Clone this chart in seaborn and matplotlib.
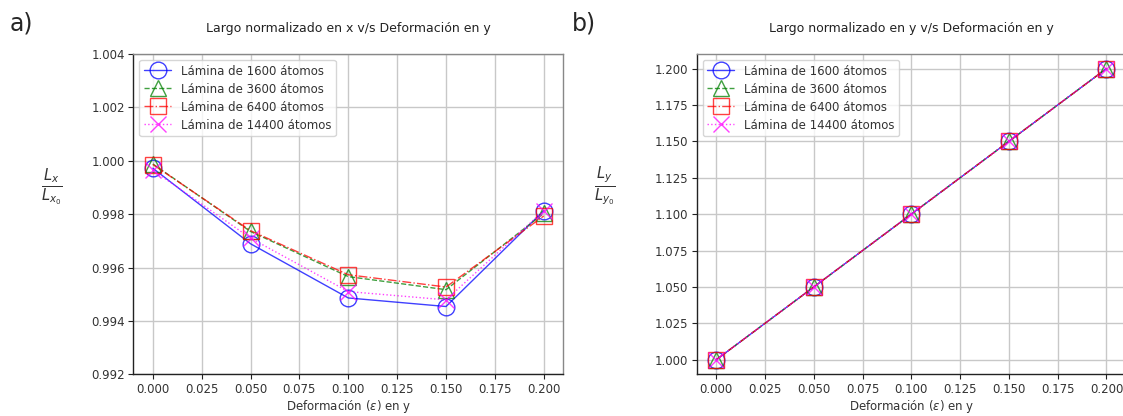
import matplotlib
matplotlib.use("Agg")
import matplotlib.pyplot as plt
import seaborn as sns
import numpy as np

strain = [0.000, 0.050, 0.100, 0.150, 0.200]
labels = ["Lámina de 1600 átomos", "Lámina de 3600 átomos",
          "Lámina de 6400 átomos", "Lámina de 14400 átomos"]

lx_1600 = [0.99972, 0.99689, 0.99486, 0.99454, 0.99813]
lx_3600 = [0.99988, 0.99735, 0.99566, 0.99517, 0.99803]
lx_6400 = [0.99986, 0.99738, 0.99573, 0.99527, 0.99793]
lx_14400 = [0.99965, 0.99710, 0.99510, 0.99479, 0.99813]

ly_1600 = [1.000, 1.050, 1.100, 1.150, 1.200]
ly_3600 = [1.000, 1.050, 1.100, 1.150, 1.200]
ly_6400 = [1.000, 1.050, 1.100, 1.150, 1.200]
ly_14400 = [1.000, 1.050, 1.100, 1.150, 1.200]

sns.set_style("whitegrid")
plt.rcParams['font.family'] = ['DejaVu Sans']

colors = ["blue", "green", "red", "magenta"]
markers = ["o", "^", "s", "x"]
lstyles = ["-", "--", "-.", ":"]

fig = plt.figure(figsize=(11.23, 4.16), dpi=100)
W, H = 1123, 416
ax1 = fig.add_axes([133.3 / W, 1 - 374.3 / H, (563.3 - 133.3) / W, (374.3 - 54) / H])
ax2 = fig.add_axes([696.7 / W, 1 - 374.3 / H, (1126 - 696.7) / W, (374.3 - 54) / H])

def draw(ax, series):
    for ys, lab, c, m, ls in zip(series, labels, colors, markers, lstyles):
        sns.lineplot(x=strain, y=ys, ax=ax, color=c, marker=m, markersize=12,
                     markerfacecolor="none", markeredgecolor=c, markeredgewidth=1.0,
                     linestyle=ls, linewidth=1.0, alpha=0.75, label=lab)
    ax.grid(True, color="#c8c8c8", linewidth=1.0)
    ax.set_facecolor("white")
    for s in ["left", "bottom"]:
        ax.spines[s].set_color("#222222")
    for s in ["top", "right"]:
        ax.spines[s].set_color("#888888")
    for s in ax.spines.values():
        s.set_linewidth(1.0)
    ax.tick_params(axis="both", which="both", labelsize=8.5, colors="#222222",
                   length=3.5, width=0.8, pad=2.5, left=True, bottom=True, labelcolor="#333333")
    ax.xaxis.set_major_formatter(matplotlib.ticker.FormatStrFormatter("%.3f"))
    ax.yaxis.set_major_formatter(matplotlib.ticker.FormatStrFormatter("%.3f"))
    ax.set_xticks(np.arange(0, 0.2001, 0.025))
    ax.set_xlabel(r"Deformación ($\epsilon$) en y", fontsize=8.5, color="#333333", labelpad=2)
    leg = ax.legend(loc="upper left", fontsize=8.5, frameon=True, handlelength=2.3,
                    borderaxespad=0.5, labelspacing=0.42)
    leg.get_frame().set_edgecolor("#cccccc")
    for t in leg.get_texts():
        t.set_color("#333333")

draw(ax1, [lx_1600, lx_3600, lx_6400, lx_14400])
ax1.set_ylim(0.992, 1.004)
ax1.set_yticks(np.arange(0.992, 1.0041, 0.002))
ax1.set_title("Largo normalizado en x v/s Deformación en y", fontsize=9, pad=16, color="#222222")
ax1.set_ylabel(r"$\frac{L_x}{L_{x_0}}$", rotation=0, fontsize=15, color="#333333")
ax1.yaxis.set_label_coords(-0.19, 0.52)

draw(ax2, [ly_1600, ly_3600, ly_6400, ly_14400])
ax2.set_yticks(np.arange(1.0, 1.2001, 0.025))
ax2.set_title("Largo normalizado en y v/s Deformación en y", fontsize=9, pad=16, color="#222222")
ax2.set_ylabel(r"$\frac{L_y}{L_{y_0}}$", rotation=0, fontsize=15, color="#333333")
ax2.yaxis.set_label_coords(-0.215, 0.52)

fig.text(10 / W, 1 - 24 / H, "a)", fontsize=17, va="center", ha="left")
fig.text(572 / W, 1 - 24 / H, "b)", fontsize=17, va="center", ha="left")

fig.savefig("out.png", dpi=100)
